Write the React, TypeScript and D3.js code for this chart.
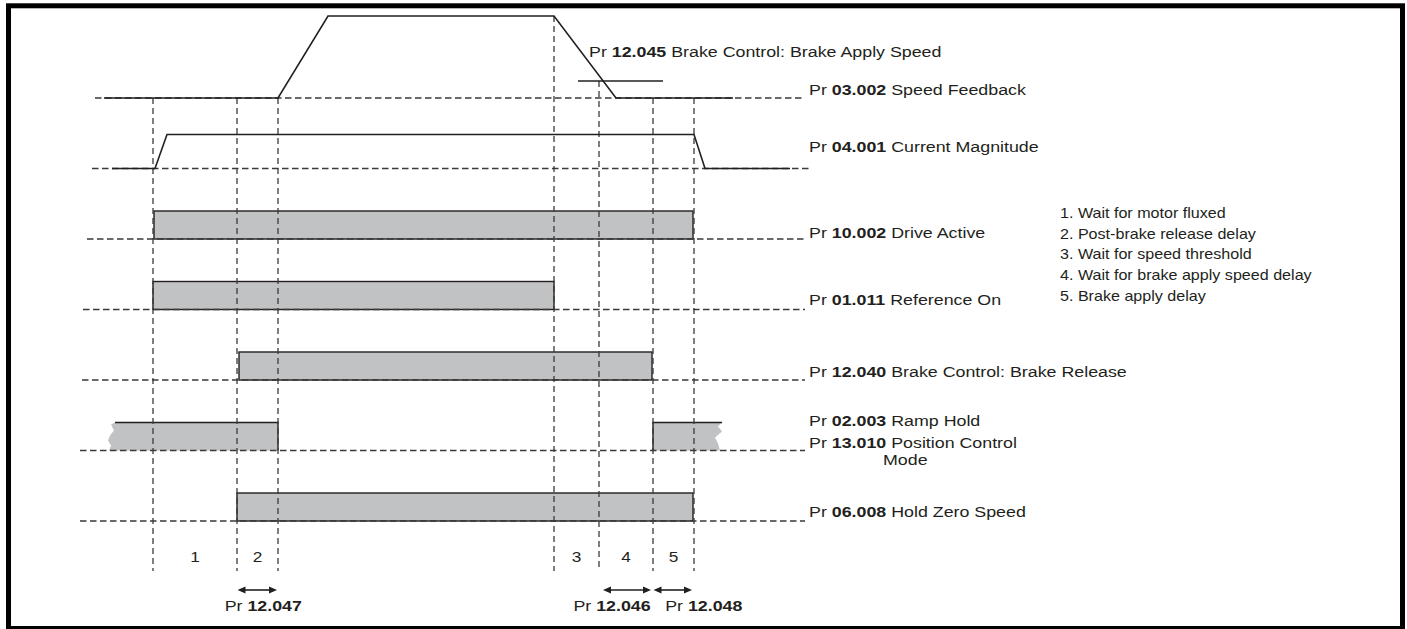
import React from 'react';
import * as d3 from 'd3';

// ---------- data ----------
// time axis in arbitrary units
const EVENT_T = [73, 157, 198, 474, 519, 573, 614];
// level (0..1) of the speed trace where each vertical marker starts
const EVENT_LEVEL = [0, 0, 0, 1, 0.207, 0, 0];

const ROWS = ['speed', 'current', 'drive', 'refOn', 'brake', 'ramp', 'hold'];

const SPEED: [number, number][] = [[24, 0], [198, 0], [248, 1], [474, 1], [536, 0], [653, 0]];
const THRESHOLD_LEVEL = 0.207;
const THRESHOLD_T: [number, number] = [498, 583];
const CURRENT: [number, number][] = [[32, 0], [75, 0], [87, 1], [614, 1], [625, 0], [710, 0]];

const BARS = [
  { row: 'drive', start: 74, end: 613, torn: '' },
  { row: 'refOn', start: 73, end: 474, torn: '' },
  { row: 'brake', start: 159, end: 572, torn: '' },
  { row: 'ramp', start: 30, end: 198, torn: 'start' },
  { row: 'ramp', start: 573, end: 642, torn: 'end' },
  { row: 'hold', start: 157, end: 613, torn: '' },
];

const BASELINE_EXTENT: Record<string, [number, number]> = {
  speed: [15, 722], current: [12, 732], drive: [7, 725], refOn: [3, 725],
  brake: [2, 725], ramp: [0, 725], hold: [0, 725],
};

const LABELS = [
  { row: 'speed', code: '03.002', name: 'Speed Feedback', dy: -3.5 },
  { row: 'current', code: '04.001', name: 'Current Magnitude', dy: -17 },
  { row: 'drive', code: '10.002', name: 'Drive Active', dy: -1.3 },
  { row: 'refOn', code: '01.011', name: 'Reference On', dy: -4.5 },
  { row: 'brake', code: '12.040', name: 'Brake Control: Brake Release', dy: -3 },
  { row: 'ramp', code: '02.003', name: 'Ramp Hold', dy: -24.5 },
  { row: 'ramp', code: '13.010', name: 'Position Control', dy: -2.5 },
  { row: 'hold', code: '06.008', name: 'Hold Zero Speed', dy: -4.5 },
];

const PERIODS = [
  { label: '1', from: 0, to: 1 },
  { label: '2', from: 1, to: 2 },
  { label: '3', from: 3, to: 4 },
  { label: '4', from: 4, to: 5 },
  { label: '5', from: 5, to: 6 },
];

const ARROWS = [
  { code: '12.047', from: 1, to: 2, inset: [0.5, 1], dx: 6 },
  { code: '12.046', from: 4, to: 5, inset: [4, 2], dx: -15 },
  { code: '12.048', from: 5, to: 6, inset: [0.5, 2], dx: 31 },
];

const LEGEND = [
  '1. Wait for motor fluxed',
  '2. Post-brake release delay',
  '3. Wait for speed threshold',
  '4. Wait for brake apply speed delay',
  '5. Brake apply delay',
];

// ---------- styles ----------
const W = 1407, H = 629;
const FONT = "'Liberation Sans', Arial, Helvetica, sans-serif";
const INK = '#231f20';
const DASH = '#3a3a3a';
const FILL = '#c1c2c4';
const SX = 1.15;
const SPEED_AMP = 82, CURRENT_AMP = 34, BAR_H = 28;
const TORN_LEFT: [number, number][] = [[5, 0], [1, 2], [4, 8], [0, 13], [-2, 18], [1, 23], [-1, 28]];
const TORN_RIGHT: [number, number][] = [[0, 0], [-4, 4], [0, 9], [-7, 15], [-4, 21], [-2, 28]];

function T({ x, y, size, anchor = 'start', children }: any) {
  return (
    <text transform={`translate(${x},${y}) scale(${SX},1)`} fontSize={size} fontFamily={FONT}
      fill={INK} textAnchor={anchor}>{children}</text>
  );
}

export default function App() {
  const x = d3.scaleLinear().domain([0, 730]).range([80, 810]);
  const y = d3.scalePoint<string>().domain(ROWS).range([98, 521]);
  const yr = (r: string) => y(r) as number;

  const speedLine = d3.line<[number, number]>().x(d => x(d[0])).y(d => yr('speed') - d[1] * SPEED_AMP);
  const currentLine = d3.line<[number, number]>().x(d => x(d[0])).y(d => yr('current') - d[1] * CURRENT_AMP);

  const vBottom = yr('hold') + 50;
  const labelX = x(729);

  const bars = BARS.map((b, i) => {
    const base = yr(b.row), top = base - BAR_H;
    const x0 = x(b.start), x1 = x(b.end);
    if (b.torn === 'start') {
      const pts = TORN_LEFT.map(([dx, dy]) => `${x0 + dx},${top + dy}`).join(' L');
      return (
        <g key={i}>
          <path d={`M${pts} L${x1},${base} L${x1},${top} Z`} fill={FILL} />
          <path d={`M${x0 + 5},${top} H${x1} V${base}`} fill="none" stroke={INK} strokeWidth={1.4} />
        </g>
      );
    }
    if (b.torn === 'end') {
      const pts = TORN_RIGHT.map(([dx, dy]) => `${x1 + dx},${top + dy}`).join(' L');
      return (
        <g key={i}>
          <path d={`M${x0},${base} L${x0},${top} L${pts} Z`} fill={FILL} />
          <path d={`M${x0},${base} V${top} H${x1}`} fill="none" stroke={INK} strokeWidth={1.4} />
        </g>
      );
    }
    return <rect key={i} x={x0} y={top} width={x1 - x0} height={BAR_H} fill={FILL} stroke={INK} strokeWidth={1.4} />;
  });

  const arrowHead = (xt: number, yy: number, dir: number) =>
    `M${xt},${yy} L${xt - dir * 8},${yy - 3.5} L${xt - dir * 8},${yy + 3.5} Z`;

  const arrowY = yr('hold') + 69;

  return (
    <svg width={W} height={H} style={{ position: 'absolute', left: 0, top: 0, display: 'block', background: '#fff' }}>
      <rect x={8.5} y={5.8} width={1394} height={622.7} fill="#fff" stroke="#000" strokeWidth={5} />
      {bars}
      {/* horizontal dashed baselines */}
      {ROWS.map(r => (
        <line key={r} x1={x(BASELINE_EXTENT[r][0])} x2={x(BASELINE_EXTENT[r][1])} y1={yr(r)} y2={yr(r)}
          stroke={DASH} strokeWidth={1.3} strokeDasharray="6.5,3.5" />
      ))}
      {/* vertical dashed markers */}
      {EVENT_T.map((t, i) => (
        <line key={i} x1={x(t)} x2={x(t)} y1={yr('speed') - EVENT_LEVEL[i] * SPEED_AMP} y2={vBottom}
          stroke={DASH} strokeWidth={1.3} strokeDasharray="6,4" />
      ))}
      <path d={speedLine(SPEED) as string} fill="none" stroke={INK} strokeWidth={1.6} />
      <line x1={x(THRESHOLD_T[0])} x2={x(THRESHOLD_T[1])}
        y1={yr('speed') - THRESHOLD_LEVEL * SPEED_AMP} y2={yr('speed') - THRESHOLD_LEVEL * SPEED_AMP}
        stroke={INK} strokeWidth={1.5} />
      <path d={currentLine(CURRENT) as string} fill="none" stroke={INK} strokeWidth={1.6} />

      {/* labels */}
      <T x={x(509)} y={57} size={15.5}>Pr <tspan fontWeight="bold">12.045</tspan> Brake Control: Brake Apply Speed</T>
      {LABELS.map((l, i) => (
        <T key={i} x={labelX} y={yr(l.row) + l.dy} size={15.5}>Pr <tspan fontWeight="bold">{l.code}</tspan> {l.name}</T>
      ))}
      <T x={883} y={yr('ramp') + 14.5} size={15.5}>Mode</T>

      {/* period numbers */}
      {PERIODS.map(p => (
        <T key={p.label} x={(x(EVENT_T[p.from]) + x(EVENT_T[p.to])) / 2} y={yr('hold') + 41} size={15} anchor="middle">{p.label}</T>
      ))}

      {/* arrows */}
      {ARROWS.map(a => {
        const xa = x(EVENT_T[a.from]) + a.inset[0];
        const xb = x(EVENT_T[a.to]) - a.inset[1];
        return (
          <g key={a.code}>
            <line x1={xa + 4} x2={xb - 4} y1={arrowY} y2={arrowY} stroke={INK} strokeWidth={1.6} />
            <path d={arrowHead(xa, arrowY, -1)} fill={INK} />
            <path d={arrowHead(xb, arrowY, 1)} fill={INK} />
            <T x={(xa + xb) / 2 + a.dx} y={arrowY + 20.5} size={15.5} anchor="middle">Pr <tspan fontWeight="bold">{a.code}</tspan></T>
          </g>
        );
      })}

      {/* legend */}
      {LEGEND.map((s, i) => (
        <T key={i} x={1060} y={218 + i * 20.7} size={14}>{s}</T>
      ))}
    </svg>
  );
}
